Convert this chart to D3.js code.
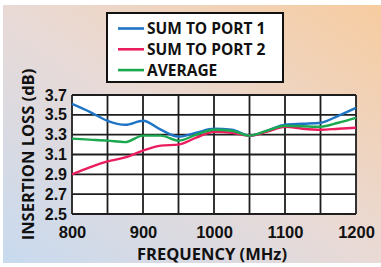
<!DOCTYPE html>
<html><head><meta charset="utf-8">
<script src="https://cdn.jsdelivr.net/npm/d3@7"></script>
<style>body{margin:0;background:#fff}svg{display:block}</style>
</head><body>
<script>
const freqs = [800,825,850,875,900,925,950,975,1000,1025,1050,1075,1100,1125,1150,1175,1200];
const sumPort1 = [3.61,3.53,3.44,3.40,3.44,3.35,3.28,3.32,3.36,3.35,3.29,3.34,3.40,3.41,3.42,3.49,3.57];
const sumPort2 = [2.90,2.97,3.03,3.07,3.14,3.19,3.20,3.27,3.33,3.32,3.29,3.33,3.38,3.36,3.35,3.36,3.37];
const average  = [3.26,3.25,3.24,3.225,3.29,3.29,3.24,3.30,3.35,3.34,3.29,3.34,3.39,3.385,3.38,3.42,3.47];
const seriesNames = ["SUM TO PORT 1","SUM TO PORT 2","AVERAGE"];
const seriesColors = ["#1f74c6","#ec1d5e","#1ba84f"];
const xTicks = [800,900,1000,1100,1200];
const yTicks = [2.5,2.7,2.9,3.1,3.3,3.5,3.7];
const xGrid = [800,850,900,950,1000,1050,1100,1150,1200];

const W=381,H=267;
const svg=d3.select("body").append("svg").attr("width",W).attr("height",H);
const defs=svg.append("defs");
const g=defs.append("linearGradient").attr("id","bg").attr("x1","0").attr("y1","1").attr("x2","1").attr("y2","0");
g.append("stop").attr("offset","0").attr("stop-color","#c8daef");
g.append("stop").attr("offset","0.5").attr("stop-color","#e9dad6");
g.append("stop").attr("offset","1").attr("stop-color","#f7cca0");
svg.append("rect").attr("x",3).attr("y",5).attr("width",W-3).attr("height",258).attr("fill","url(#bg)");

const m={l:72,r:356,t:95,b:214};
const x=d3.scaleLinear().domain([800,1200]).range([m.l,m.r]);
const y=d3.scaleLinear().domain([2.5,3.7]).range([m.b,m.t]);

svg.append("rect").attr("x",m.l).attr("y",m.t).attr("width",m.r-m.l).attr("height",m.b-m.t).attr("fill","#fff");

const grid=svg.append("g").attr("stroke","#1e1e1e").attr("stroke-width",1.8);
grid.selectAll("line.v").data(xGrid).join("line").attr("class","v")
  .attr("x1",d=>x(d)).attr("x2",d=>x(d)).attr("y1",m.t).attr("y2",m.b);
grid.selectAll("line.h").data(yTicks).join("line").attr("class","h")
  .attr("y1",d=>y(d)).attr("y2",d=>y(d)).attr("x1",m.l).attr("x2",m.r);

const font="'Open Sans', sans-serif";
const tickFont="'Liberation Sans', Arial, sans-serif";
const xAxis=d3.axisBottom(x).tickValues(xTicks).tickSize(0).tickPadding(12).tickFormat(d3.format("d"));
const xa=svg.append("g").attr("transform",`translate(0,${m.b})`).call(xAxis);
xa.select(".domain").remove();
xa.selectAll("text").attr("font-family",tickFont).attr("font-weight","bold").attr("font-size",16.5).attr("fill","#111");
const yAxis=d3.axisLeft(y).tickValues(yTicks).tickSize(0).tickPadding(5).tickFormat(d3.format(".1f"));
const ya=svg.append("g").attr("transform",`translate(${m.l},0)`).call(yAxis);
ya.select(".domain").remove();
ya.selectAll("text").attr("font-family",tickFont).attr("font-weight","bold").attr("font-size",16).attr("fill","#111");

const line=d3.line().x((d,i)=>x(freqs[i])).y(d=>y(d)).curve(d3.curveMonotoneX);
[sumPort1,sumPort2,average].forEach((s,k)=>{
  svg.append("path").attr("d",line(s)).attr("fill","none").attr("stroke",seriesColors[k]).attr("stroke-width",2.4);
});

svg.append("text").attr("x",(m.l+m.r)/2-2).attr("y",260).attr("text-anchor","middle")
  .attr("font-family",font).attr("font-weight","bold").attr("font-size",16.5).attr("fill","#111").text("FREQUENCY (MHz)");
svg.append("text").attr("transform",`translate(34,${(m.t+m.b)/2}) rotate(-90)`).attr("text-anchor","middle")
  .attr("font-family",font).attr("font-weight","bold").attr("font-size",16.5).attr("fill","#111").text("INSERTION LOSS (dB)");

const lg=svg.append("g");
lg.append("rect").attr("x",107).attr("y",13).attr("width",176).attr("height",69).attr("fill","#fff").attr("stroke","#111").attr("stroke-width",2);
seriesNames.forEach((n,k)=>{
  const yy=28.5+k*20.8;
  lg.append("line").attr("x1",118).attr("x2",144).attr("y1",yy).attr("y2",yy).attr("stroke",seriesColors[k]).attr("stroke-width",2.6);
  lg.append("text").attr("x",147).attr("y",yy+5.5).attr("font-family",font).attr("font-weight","bold").attr("font-size",15.5).attr("fill","#111").text(n);
});
</script>
</body></html>
